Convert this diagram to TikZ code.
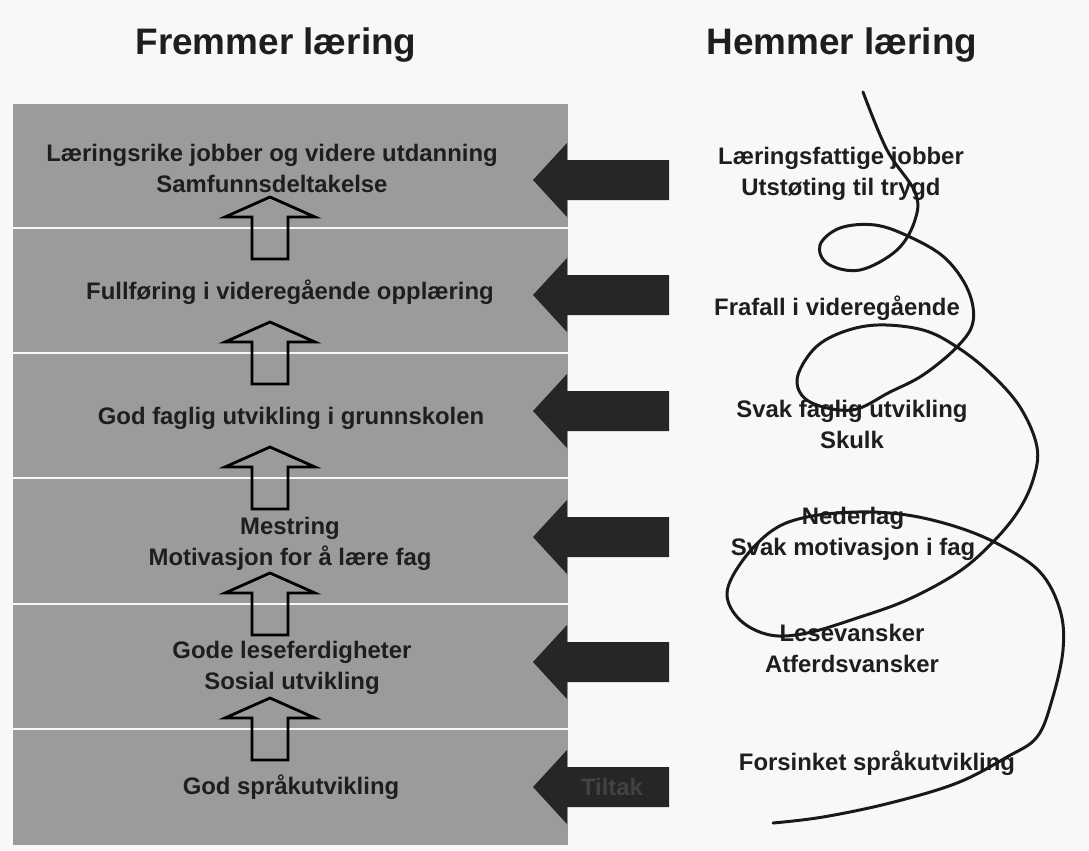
\documentclass[tikz,border=0pt]{standalone}
\usepackage{fontspec}
\setmainfont{Liberation Sans}
\usetikzlibrary{positioning}
\definecolor{paper}{RGB}{248,248,248}
\definecolor{panel}{RGB}{155,155,155}
\definecolor{ink}{RGB}{30,30,30}
\definecolor{blockarrow}{RGB}{38,38,38}
\definecolor{faint}{RGB}{66,66,66}

\begin{document}
\begin{tikzpicture}[x=0.02cm,y=-0.02cm,
    lbl/.style={font=\fontsize{13.6}{17.6}\selectfont\bfseries, text=ink, align=center, inner sep=0pt},
    ttl/.style={font=\fontsize{21}{24}\selectfont\bfseries, text=ink, inner sep=0pt},
    hollow/.style={draw=black, line width=1.6pt, line join=miter},
    coil/.style={draw=black!90, line width=1.7pt, line cap=round}]
      % paper and grey panel
      \fill[paper] (0,0) rectangle (1089,850);
      \fill[panel] (13,104) rectangle (568,845);
      % white lines between the bands
      \foreach \d in {228,353,478,604,729}
        \draw[white!92!panel, line width=1.4pt] (13,\d) -- (568,\d);
      % titles
      \node[ttl] (fremmer) at (276,45) {Fremmer læring};
      \node[ttl] (hemmer) at (842,45) {Hemmer læring};
      % left column
      \node[lbl] (f6) at (272,168) {Læringsrike jobber og videre utdanning\\Samfunnsdeltakelse};
      \node[lbl] (f5) at (290,292) {Fullføring i videregående opplæring};
      \node[lbl] (f4) at (291,418) {God faglig utvikling i grunnskolen};
      \node[lbl] (f3) at (290,544) {Mestring\\Motivasjon for å lære fag};
      \node[lbl] (f2) at (292,668) {Gode leseferdigheter\\Sosial utvikling};
      \node[lbl] (f1) at (291,787) {God språkutvikling};
      % hollow arrows upwards
      \foreach \d in {228,353,478,604,729}
        \draw[hollow] (270,\d-31) -- (315,\d-11) -- (288,\d-11) -- (288,\d+31)
          -- (252,\d+31) -- (252,\d-11) -- (225,\d-11) -- cycle;
      % black arrows from the right
      \foreach \c in {180,295,411,537,662,787}
        \fill[blockarrow] (533,\c) -- (567,\c-37) -- (567,\c-20) -- (669,\c-20)
          -- (669,\c+20) -- (567,\c+20) -- (567,\c+37) -- cycle;
      \node[lbl, text=faint] (tiltak) at (612,787) {Tiltak};
      % right column
      \node[lbl] (h6) at (841,174) {Læringsfattige jobber\\Utstøting til trygd};
      \node[lbl] (h5) at (837,308) {Frafall i videregående};
      \node[lbl] (h4) at (852,424) {Svak faglig utvikling\\Skulk};
      \node[lbl] (h3) at (853,534) {Nederlag\\Svak motivasjon i fag};
      \node[lbl] (h2) at (852,648) {Lesevansker\\Atferdsvansker};
      \node[lbl] (h1) at (877,763) {Forsinket språkutvikling};
      % the coil
      \draw[coil] plot[smooth, tension=0.6] coordinates {
        (863,92) (887,150) (915,192) (915,220) (897,250) (860,270) (828,264)
        (820,245) (840,228) (875,225) (910,237) (945,258) (968,290) (973,322)
        (957,347) (923,375) (890,392) (852,410) (810,402) (797,380) (813,350)
        (840,333) (877,325) (923,330) (957,347) (990,373) (1020,407) (1037,447)
        (1033,480) (1017,513) (990,545) (957,573) (907,600) (857,618) (807,633)
        (770,635) (740,620) (727,593) (743,560) (773,530) (807,517) (857,512)
        (907,515) (957,527) (1000,545) (1040,572) (1060,610) (1063,650)
        (1052,700) (1037,737) (1007,757) (957,783) (890,803) (823,817) (773,823)};
\end{tikzpicture}
\end{document}
